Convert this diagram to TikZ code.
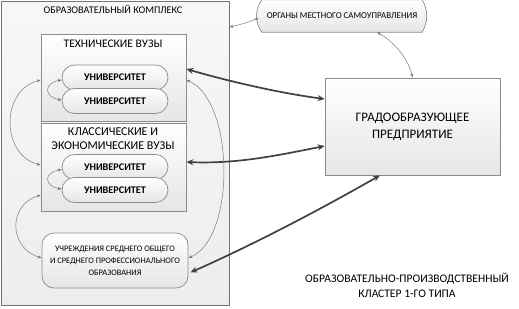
\documentclass[tikz,border=0pt]{standalone}
\usepackage{fontspec}
\setmainfont{Carlito}
\usetikzlibrary{arrows.meta,calc}
\definecolor{bordergray}{HTML}{8C8C8C}
\definecolor{thinline}{HTML}{7A7A7A}
\definecolor{thickline}{HTML}{404040}
\begin{document}
\begin{tikzpicture}[x=1pt,y=-1pt,
  box/.style={draw=bordergray,line width=0.7pt,top color=white,bottom color=black!10,inner sep=0pt},
  pill/.style={box,rounded corners=12.5pt,minimum width=106pt,minimum height=25pt,font=\fontsize{10.2}{11}\selectfont\bfseries},
  lbl/.style={inner sep=0pt,align=center},
  thin/.style={draw=thinline,line width=0.5pt,{Stealth[length=4pt,width=3pt,fill=thickline]}-{Stealth[length=4pt,width=3pt,fill=thickline]}},
  thick/.style={draw=thickline,line width=1.7pt,{Stealth[length=7pt,width=6pt]}-{Stealth[length=7pt,width=6pt]}}
]
\useasboundingbox (0,0) rectangle (519,308);
% outer complex
\node[box,draw=black!55,top color=black!3,bottom color=black!7,minimum width=228pt,minimum height=304pt] (outer) at (115,153) {};
\node[lbl,font=\fontsize{10.2}{11}\selectfont] (outertitle) at (113,9) {ОБРАЗОВАТЕЛЬНЫЙ КОМПЛЕКС};
% technical
\node[box,minimum width=145pt,minimum height=87pt] (tech) at (113.5,77.5) {};
\node[lbl,font=\fontsize{11.6}{12}\selectfont] (techtitle) at (113,43.5) {ТЕХНИЧЕСКИЕ ВУЗЫ};
\node[pill] (u1) at (115,77.5) {УНИВЕРСИТЕТ};
\node[pill] (u2) at (115,101) {УНИВЕРСИТЕТ};
% classic
\node[box,minimum width=145pt,minimum height=88pt] (classic) at (113.5,167) {};
\node[lbl,font=\fontsize{12}{13.5}\selectfont] (classictitle) at (113,138.5) {КЛАССИЧЕСКИЕ И\\ЭКОНОМИЧЕСКИЕ ВУЗЫ};
\node[pill] (u3) at (115,167) {УНИВЕРСИТЕТ};
\node[pill] (u4) at (115,190) {УНИВЕРСИТЕТ};
% schools
\node[box,rounded corners=12pt,minimum width=146pt,minimum height=55pt,align=center,font=\fontsize{8.4}{11.8}\selectfont] (schools) at (115,260.5) {УЧРЕЖДЕНИЯ СРЕДНЕГО ОБЩЕГО\\И СРЕДНЕГО ПРОФЕССИОНАЛЬНОГО\\ОБРАЗОВАНИЯ};
% organs
\node[inner sep=0pt,minimum width=160pt,minimum height=32pt] (organs) at (342,16) {};
\path[draw=bordergray,line width=0.7pt,top color=white,bottom color=black!10]
  (organs.north west) -- (organs.north east)
  .. controls +(6,10) and +(6,-10) .. (organs.south east)
  -- (organs.south west)
  .. controls +(-7,-10) and +(-7,10) .. (organs.north west) -- cycle;
\node[inner sep=0pt,font=\fontsize{8.9}{10}\selectfont] (organstext) at (organs.center) {ОРГАНЫ МЕСТНОГО САМОУПРАВЛЕНИЯ};
% enterprise
\node[box,minimum width=175pt,minimum height=97pt,align=center,font=\fontsize{13}{17}\selectfont] (grad) at (412.5,126.5) {ГРАДООБРАЗУЮЩЕЕ\\ПРЕДПРИЯТИЕ};
% cluster label
\node[lbl,font=\fontsize{11.6}{15}\selectfont] (cluster) at (407,285.5) {ОБРАЗОВАТЕЛЬНО-ПРОИЗВОДСТВЕННЫЙ\\КЛАСТЕР 1-ГО ТИПА};
% thick connectors
\draw[thick] ([yshift=8.5pt]tech.east) .. controls +(45,13) and +(-45,-6) .. ([yshift=27.5pt]grad.west);
\draw[thick] ([yshift=5pt]classic.east) .. controls +(50,2) and +(-50,10) .. ([yshift=-19.5pt]grad.west);
\draw[thick] ([xshift=2pt,yshift=-12pt]schools.east) .. controls +(63,-28) and +(-63,36) .. ([xshift=-32.5pt]grad.south);
% thin connectors
\draw[thin] ([yshift=126pt]outer.east) .. controls +(10,-2) and +(-10,4) .. ([yshift=-2pt,xshift=-3pt]organs.west);
\draw[thin] ([xshift=35pt]organs.south) .. controls +(18,10) and +(-4,-18) .. (grad.north);
\draw[thin] ([yshift=-2.5pt]u1.west) .. controls +(-18,3) and +(-18,-3) .. ([yshift=1pt]u2.west);
\draw[thin] ([yshift=-2.5pt]u3.west) .. controls +(-18,3) and +(-18,-3) .. ([yshift=1pt]u4.west);
\draw[thin] ([yshift=-2.5pt]tech.west) .. controls +(-40,10) and +(-40,-10) .. ([yshift=2pt]classic.west);
\draw[thin] ([yshift=-28pt]classic.west) .. controls +(-33,10) and +(-33,-10) .. ([yshift=2.5pt]schools.west);
\draw[thin] ([yshift=-2.5pt]tech.east) .. controls +(48,20) and +(48,-20) .. ([yshift=2.5pt]schools.east);
\end{tikzpicture}
\end{document}
